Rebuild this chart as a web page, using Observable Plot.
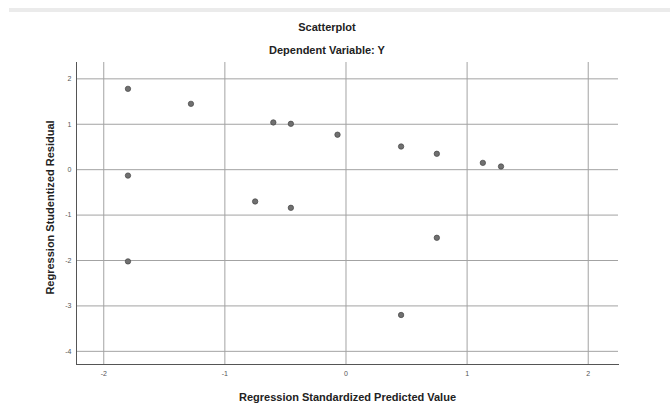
<!DOCTYPE html>
<html>
<head>
<meta charset="utf-8">
<script src="https://cdn.jsdelivr.net/npm/d3@7"></script>
<script src="https://cdn.jsdelivr.net/npm/@observablehq/plot@0.6"></script>
<style>
  html, body { margin: 0; padding: 0; background: #fff; }
  body { width: 670px; height: 405px; position: relative; overflow: hidden; font-family: "Liberation Sans", Arial, sans-serif; }
  #band { position: absolute; left: 9px; right: 0; top: 8px; height: 4px; background: #ebebeb; }
  #header { position: relative; height: 60px; }
  .ttl { position: absolute; left: 177px; width: 300px; text-align: center; font-weight: bold; font-size: 11px; color: #222; }
  #t1 { top: 21px; }
  #t2 { top: 44px; }
  #chart svg { display: block; }
</style>
</head>
<body>
<div id="band"></div>
<div id="header">
  <div class="ttl" id="t1">Scatterplot</div>
  <div class="ttl" id="t2">Dependent Variable: Y</div>
</div>
<div id="chart"></div>
<script>
const title = "Scatterplot";
const subtitle = "Dependent Variable: Y";
const xLabel = "Regression Standardized Predicted Value";
const yLabel = "Regression Studentized Residual";

// Predicted values (x) and studentized residuals (y)
const predicted = [-1.80, -1.28, -0.60, -0.455, -0.07, 0.455, 0.75, 1.13, 1.28, -1.80, -0.75, -0.455, 0.75, -1.80, 0.455];
const residual  = [ 1.78,  1.45,  1.04,  1.01,   0.77, 0.51,  0.35, 0.15, 0.07, -0.13, -0.70, -0.84, -1.50, -2.02, -3.20];

const xTicks = [-2, -1, 0, 1, 2];
const yTicks = [-4, -3, -2, -1, 0, 1, 2];

const points = predicted.map((x, i) => ({x, y: residual[i]}));

const chart = Plot.plot({
  width: 670,
  height: 345,
  marginLeft: 76,
  marginRight: 52,
  marginTop: 2,
  marginBottom: 41,
  style: { fontFamily: "Liberation Sans, Arial, sans-serif", background: "#fff" },
  x: { domain: [-2.225, 2.25], ticks: xTicks },
  y: { domain: [-4.29, 2.36], ticks: yTicks },
  marks: [
    Plot.gridX(xTicks, { stroke: "#a3a3a3", strokeOpacity: 1, strokeWidth: 1 }),
    Plot.gridY(yTicks, { stroke: "#a3a3a3", strokeOpacity: 1, strokeWidth: 1 }),
    Plot.axisX(xTicks, { tickSize: 0, tickPadding: 7, fontSize: 7, fill: "#555", label: null, tickFormat: d => String(d) }),
    Plot.axisY(yTicks, { tickSize: 0, tickPadding: 5, fontSize: 7, fill: "#555", label: null, tickFormat: d => String(d) }),
    Plot.frame({ anchor: "left", stroke: "#555" }),
    Plot.frame({ anchor: "bottom", stroke: "#555" }),
    Plot.dot(points, { x: "x", y: "y", r: 2.7, fill: "#707070", stroke: "#444", strokeWidth: 0.7 }),
    Plot.text([xLabel], { frameAnchor: "bottom", dy: 33, text: d => d, fontSize: 11, fontWeight: "bold", fill: "#222", lineAnchor: "middle", textAnchor: "middle" }),
    Plot.text([yLabel], { frameAnchor: "left", dx: -26, dy: -6, rotate: -90, text: d => d, fontSize: 11, fontWeight: "bold", fill: "#222", lineAnchor: "middle", textAnchor: "middle" })
  ]
});
document.getElementById("chart").appendChild(chart);
</script>
</body>
</html>
